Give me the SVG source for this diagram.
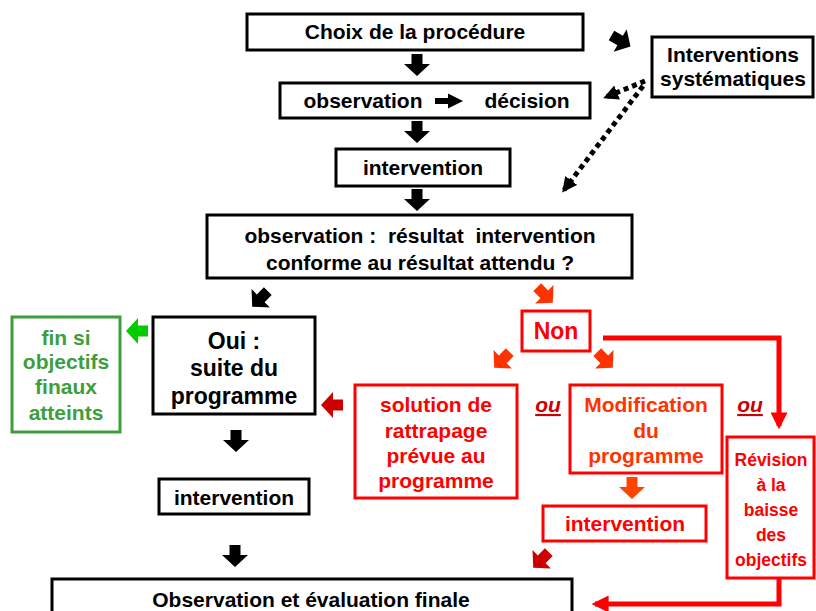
<svg xmlns="http://www.w3.org/2000/svg" xmlns:xlink="http://www.w3.org/1999/xlink" width="816" height="611" viewBox="0 0 816 611">
<style>
text{font-family:"Liberation Sans",Arial,sans-serif;font-weight:bold;text-anchor:middle;white-space:pre}
.t{font-size:21px;fill:#000}
.kb{fill:#fff;stroke:#000;stroke-width:3}
.rb{fill:#fff;stroke:#ff0000;stroke-width:3}
.gb{fill:#fff;stroke:#3d9e3d;stroke-width:3}
.rt{font-size:21px;fill:#ff0000}
.ot{font-size:21px;fill:#ff3300}
.gt{font-size:21px;fill:#3d9e3d}
.ou{font-size:21px;fill:#cc0000;font-style:italic;text-decoration:underline}
.dot{fill:none;stroke:#000;stroke-width:5;stroke-dasharray:5 4}
.rl{fill:none;stroke:#ff0000;stroke-width:5}
</style>
<defs>
<path id="ba" d="M-5.5,-11 H5.5 V-1 H13 L0,11 L-13,-1 H-5.5 Z"/>
<marker id="mk" viewBox="0 0 10 10" refX="8" refY="5" markerWidth="3" markerHeight="3" orient="auto" markerUnits="strokeWidth">
<path d="M0,0 L10,5 L0,10 Z" fill="#000"/>
</marker>
<marker id="mr" viewBox="0 0 10 10" refX="8" refY="5" markerWidth="3.4" markerHeight="3.4" orient="auto" markerUnits="strokeWidth">
<path d="M0,0 L10,5 L0,10 Z" fill="#ff0000"/>
</marker>
</defs>
<rect width="816" height="611" fill="#fff"/>

<g id="connectors">
<use xlink:href="#ba" href="#ba" transform="translate(417,65)" fill="#000"/>
<use xlink:href="#ba" href="#ba" transform="translate(417,132)" fill="#000"/>
<use xlink:href="#ba" href="#ba" transform="translate(417,200)" fill="#000"/>
<use xlink:href="#ba" href="#ba" transform="translate(621,41) rotate(-60)" fill="#000"/>
<use xlink:href="#ba" href="#ba" transform="translate(260,299) rotate(45)" fill="#000"/>
<use xlink:href="#ba" href="#ba" transform="translate(236,441)" fill="#000"/>
<use xlink:href="#ba" href="#ba" transform="translate(235,556)" fill="#000"/>
<use xlink:href="#ba" href="#ba" transform="translate(137,331) rotate(90)" fill="#00cc00"/>
<use xlink:href="#ba" href="#ba" transform="translate(332,405) rotate(90)" fill="#cc0000"/>
<use xlink:href="#ba" href="#ba" transform="translate(545,295) rotate(-45)" fill="#ff3300"/>
<use xlink:href="#ba" href="#ba" transform="translate(502,360) rotate(45)" fill="#ff3300"/>
<use xlink:href="#ba" href="#ba" transform="translate(605,360) rotate(-45)" fill="#ff3300"/>
<use xlink:href="#ba" href="#ba" transform="translate(632,488)" fill="#ff4400"/>
<use xlink:href="#ba" href="#ba" transform="translate(541,560) rotate(45)" fill="#cc0000"/>
<path class="dot" d="M645,81 L606,97" marker-end="url(#mk)"/>
<path class="dot" d="M643,86 L564,190" marker-end="url(#mk)"/>
<path class="rl" d="M603,338 H779 V426" marker-end="url(#mr)"/>
<path class="rl" d="M779,578 V604 H595" marker-end="url(#mr)"/>
</g>

<g id="n-choix">
<rect class="kb" x="247" y="14" width="336" height="36"/>
<text class="t" x="415" y="39">Choix de la procédure</text>
</g>
<g id="n-observation-decision">
<rect class="kb" x="280" y="83" width="310" height="35"/>
<text class="t" x="363" y="108">observation</text>
<path d="M435,98 H448 V93.5 L463,101 L448,108.5 V104 H435 Z" fill="#000"/>
<text class="t" x="527" y="108">décision</text>
</g>
<g id="n-intervention1">
<rect class="kb" x="336" y="149" width="174" height="37"/>
<text class="t" x="423" y="175">intervention</text>
</g>
<g id="n-interventions-systematiques">
<rect class="kb" x="652" y="37" width="161" height="60"/>
<text class="t" x="733" y="62">Interventions</text>
<text class="t" x="733" y="86">systématiques</text>
</g>
<g id="n-observation-resultat">
<rect class="kb" x="207" y="215" width="425" height="63"/>
<text class="t" x="420" y="243">observation :  résultat  intervention</text>
<text class="t" x="420" y="270">conforme au résultat attendu ?</text>
</g>
<g id="n-oui">
<rect class="kb" x="153" y="317" width="162" height="97"/>
<text class="t" x="234" y="349" style="font-size:23px">Oui :</text>
<text class="t" x="234" y="376" style="font-size:23px">suite du</text>
<text class="t" x="234" y="404" style="font-size:23px">programme</text>
</g>
<g id="n-fin">
<rect class="gb" x="12" y="317" width="108" height="115"/>
<text class="gt" x="66" y="345">fin si</text>
<text class="gt" x="66" y="369">objectifs</text>
<text class="gt" x="66" y="394">finaux</text>
<text class="gt" x="66" y="420">atteints</text>
</g>
<g id="n-non">
<rect class="rb" x="522" y="311" width="68" height="40"/>
<text class="rt" x="556" y="339" style="font-size:23px">Non</text>
</g>
<g id="n-solution">
<rect class="rb" x="355" y="385" width="162" height="113"/>
<text class="rt" x="436" y="412">solution de</text>
<text class="rt" x="436" y="438">rattrapage</text>
<text class="rt" x="436" y="463">prévue au</text>
<text class="rt" x="436" y="488">programme</text>
</g>
<text class="ou" x="548" y="412">ou</text>
<g id="n-modification">
<rect class="rb" x="570" y="385" width="152" height="88"/>
<text class="ot" x="646" y="412">Modification</text>
<text class="ot" x="646" y="438">du</text>
<text class="ot" x="646" y="463">programme</text>
</g>
<text class="ou" x="750" y="412">ou</text>
<g id="n-revision">
<rect class="rb" x="727" y="437" width="87" height="141"/>
<text class="rt" x="771" y="466" style="font-size:17.5px">Révision</text>
<text class="rt" x="771" y="491" style="font-size:17.5px">à la</text>
<text class="rt" x="771" y="516" style="font-size:17.5px">baisse</text>
<text class="rt" x="771" y="541" style="font-size:17.5px">des</text>
<text class="rt" x="771" y="566" style="font-size:17.5px">objectifs</text>
</g>
<g id="n-intervention2">
<rect class="kb" x="159" y="479" width="150" height="35"/>
<text class="t" x="234" y="505">intervention</text>
</g>
<g id="n-intervention3">
<rect class="rb" x="543" y="506" width="163" height="35"/>
<text class="rt" x="625" y="531">intervention</text>
</g>
<g id="n-final">
<rect class="kb" x="52" y="579" width="520" height="50"/>
<text class="t" x="311" y="607">Observation et évaluation finale</text>
</g>
</svg>
